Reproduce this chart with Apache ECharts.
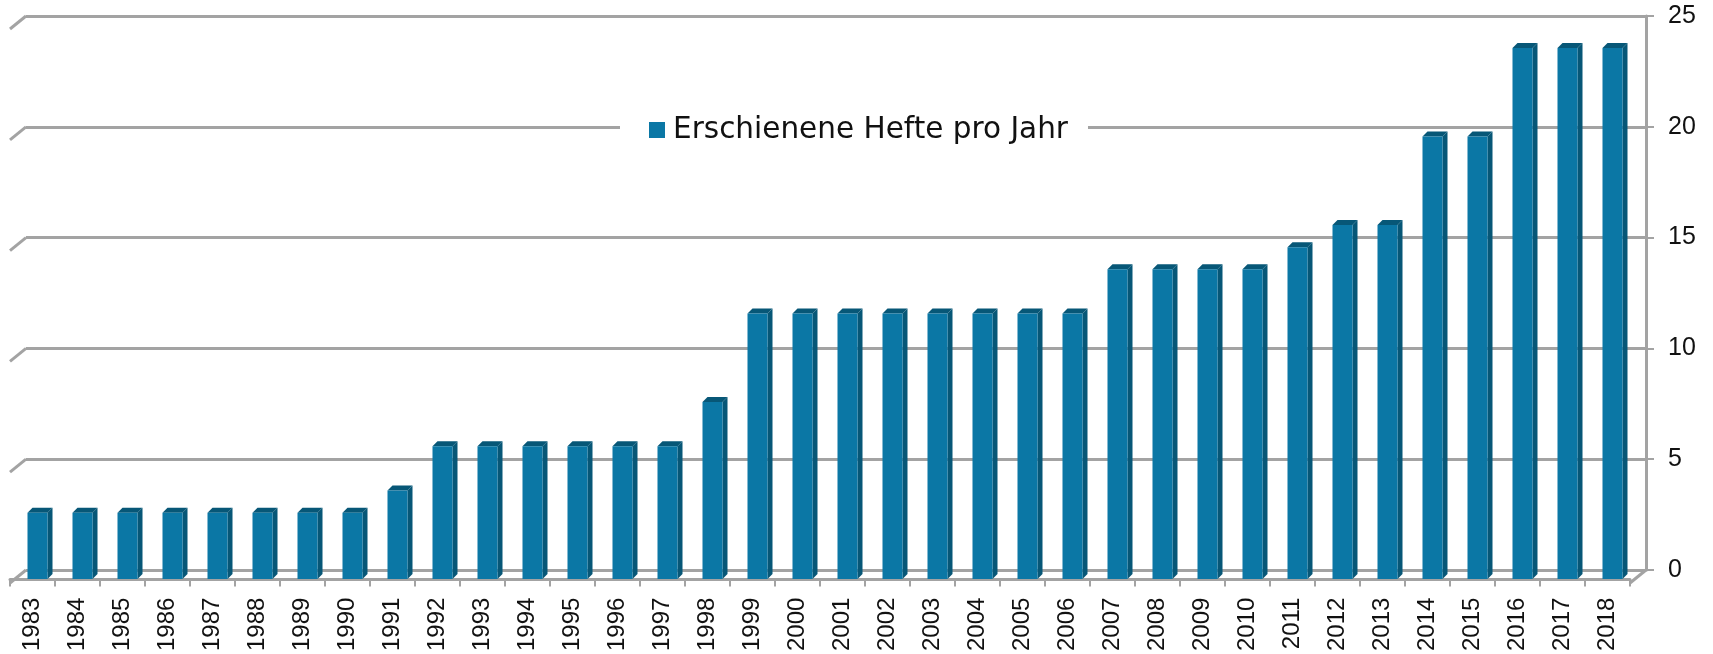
<!DOCTYPE html>
<html>
<head>
<meta charset="utf-8">
<script src="https://cdn.jsdelivr.net/npm/echarts@6/dist/echarts.min.js"></script>
<style>
    html, body { margin: 0; padding: 0; background: #fff; }
    #chart { width: 1713px; height: 654px; }
</style>
</head>
<body>
<div id="chart"></div>
<script>
var years = ['1983', '1984', '1985', '1986', '1987', '1988', '1989', '1990', '1991', '1992',
    '1993', '1994', '1995', '1996', '1997', '1998', '1999', '2000', '2001', '2002',
    '2003', '2004', '2005', '2006', '2007', '2008', '2009', '2010', '2011', '2012',
    '2013', '2014', '2015', '2016', '2017', '2018'];
var hefte = [3, 3, 3, 3, 3, 3, 3, 3, 4, 6,
    6, 6, 6, 6, 6, 8, 12, 12, 12, 12,
    12, 12, 12, 12, 14, 14, 14, 14, 15, 16,
    16, 20, 20, 24, 24, 24];
var yTicks = [0, 5, 10, 15, 20, 25];
var seriesName = 'Erschienene Hefte pro Jahr';

var gray = '#a3a3a3';
var front = '#0b77a5', side = '#075777', top = '#0a6a93';

var chart = echarts.init(document.getElementById('chart'));

chart.setOption({
    animation: false,
    backgroundColor: '#fff',
    legend: {
        data: [seriesName],
        left: 620,
        top: 113,
        backgroundColor: '#fff',
        padding: [2, 20, 2, 29],
        itemWidth: 16,
        itemHeight: 16,
        icon: 'rect',
        textStyle: {
            fontFamily: 'DejaVu Sans',
            fontSize: 29.5,
            color: '#111',
            padding: [0, 0, 0, 3]
        }
    },
    grid: [
        // back wall
        { left: 26, right: 67, top: 16, bottom: 84 },
        // plane of the bars
        { left: 15, right: 78, top: 26, bottom: 75 },
        // front floor edge
        { left: 10, right: 83, top: 29, bottom: 71 }
    ],
    xAxis: [
        { gridIndex: 0, type: 'category', data: years, show: false },
        { gridIndex: 1, type: 'category', data: years, show: false },
        {
            gridIndex: 2, type: 'category', data: years,
            axisLine: { lineStyle: { color: gray, width: 3 } },
            axisTick: { show: true, length: 7, lineStyle: { color: gray, width: 2 } },
            axisLabel: {
                interval: 0, rotate: 90, margin: 18,
                fontFamily: 'Liberation Sans', fontSize: 24, color: '#111'
            }
        }
    ],
    yAxis: [
        {
            gridIndex: 0, type: 'value', position: 'right',
            min: 0, max: 25, interval: 5,
            axisLine: { show: true, lineStyle: { color: gray, width: 3 } },
            axisTick: { show: true, length: 8, lineStyle: { color: gray, width: 2 } },
            axisLabel: { margin: 22, fontFamily: 'Liberation Sans', fontSize: 25, color: '#111' },
            splitLine: { show: true, lineStyle: { color: gray, width: 3 } }
        },
        { gridIndex: 1, type: 'value', min: 0, max: 25, show: false },
        { gridIndex: 2, type: 'value', min: 0, max: 25, show: false }
    ],
    series: [{
        // left wall slants of the gridlines and right floor corner
        type: 'custom',
        xAxisIndex: 0,
        yAxisIndex: 0,
        silent: true,
        clip: false,
        z: 1,
        data: yTicks.map(function (v) { return [0, v]; }),
        renderItem: function (params, api) {
            var cs = params.coordSys;
            var y = api.coord([0, api.value(1)])[1];
            var style = { stroke: gray, lineWidth: 3 };
            var children = [{
                type: 'line',
                shape: { x1: cs.x, y1: y, x2: cs.x - 16, y2: y + 13 },
                style: style
            }];
            if (api.value(1) === 0) {
                children.push({
                    type: 'line',
                    shape: { x1: cs.x + cs.width, y1: y, x2: cs.x + cs.width - 16, y2: y + 13 },
                    style: style
                });
            }
            return { type: 'group', children: children };
        }
    }, {
        name: seriesName,
        type: 'custom',
        xAxisIndex: 1,
        yAxisIndex: 1,
        clip: false,
        z: 3,
        itemStyle: { color: front },
        data: hefte.map(function (v, i) { return [i, v]; }),
        renderItem: function (params, api) {
            var base = api.coord([api.value(0), 0]);
            var tp = api.coord([api.value(0), api.value(1)]);
            var w = 20, d = 5, h = 5;
            var x0 = base[0] - w / 2;
            return {
                type: 'group',
                children: [{
                    type: 'polygon',
                    shape: { points: [[x0 + w, tp[1]], [x0 + w + d, tp[1] - h], [x0 + w + d, base[1] - h], [x0 + w, base[1]]] },
                    style: { fill: side }
                }, {
                    type: 'polygon',
                    shape: { points: [[x0, tp[1]], [x0 + d, tp[1] - h], [x0 + w + d, tp[1] - h], [x0 + w, tp[1]]] },
                    style: { fill: top }
                }, {
                    type: 'rect',
                    shape: { x: x0, y: tp[1], width: w, height: base[1] - tp[1] },
                    style: { fill: front }
                }]
            };
        }
    }]
});
</script>
</body>
</html>
